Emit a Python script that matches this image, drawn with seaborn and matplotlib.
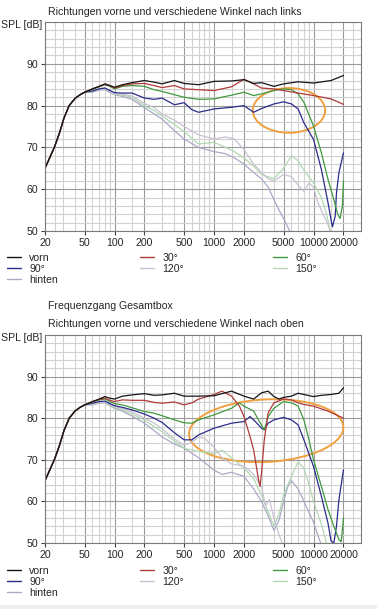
import matplotlib
matplotlib.use("Agg")
import matplotlib.pyplot as plt
import pandas as pd
import seaborn as sns
from matplotlib.patches import Ellipse, Rectangle
from matplotlib.lines import Line2D
from matplotlib.ticker import NullFormatter

# ---------------- data ----------------
LOW_F = [20, 22, 25, 28, 31, 35, 40, 45, 50]
LOW_DB = [65.0, 67.2, 70.2, 73.5, 77.0, 80.0, 81.7, 82.6, 83.2]

# panel 1: Winkel nach links
L_VORN_F = [60, 70, 80, 90, 100, 120, 150, 200, 250, 300, 400, 500, 700, 1000, 1500, 2000, 2500, 3000, 4000, 5000, 7000, 10000, 15000, 20000]
L_VORN_DB = [84.0, 84.6, 85.2, 84.8, 84.4, 85.0, 85.5, 86.0, 85.6, 85.2, 86.0, 85.3, 85.0, 85.8, 85.9, 86.2, 85.3, 85.5, 84.6, 85.2, 85.7, 85.4, 86.0, 87.2]
L_30_F = [60, 70, 80, 90, 100, 120, 150, 200, 250, 300, 400, 500, 700, 1000, 1500, 2000, 2500, 3000, 4000, 5000, 7000, 10000, 15000, 20000]
L_30_DB = [84.0, 84.6, 85.1, 84.7, 84.2, 84.8, 85.2, 85.3, 84.8, 84.3, 84.8, 84.0, 83.8, 83.6, 84.5, 86.3, 85.2, 84.2, 84.0, 83.6, 83.0, 82.4, 81.6, 80.3]
L_60_F = [60, 70, 80, 90, 100, 120, 150, 200, 250, 300, 400, 500, 700, 1000, 1500, 2000, 2500, 3000, 4000, 5000, 6000, 7000, 8000, 10000, 12000, 14000, 16000, 17500, 18500, 19500, 20000]
L_60_DB = [83.9, 84.5, 85.0, 84.6, 84.0, 84.6, 84.8, 84.6, 83.8, 83.4, 82.6, 82.0, 81.5, 81.6, 82.5, 83.2, 82.4, 82.8, 83.6, 84.0, 83.8, 82.8, 80.8, 75.1, 68.7, 62.3, 57.5, 54.0, 53.0, 56.0, 62.0]
L_90_F = [60, 70, 80, 90, 100, 120, 150, 200, 250, 300, 400, 500, 600, 700, 1000, 1500, 2000, 2500, 3000, 4000, 5000, 6000, 7000, 8000, 10000, 12000, 14000, 15000, 15500, 16500, 17000, 18000, 20000]
L_90_DB = [83.5, 84.0, 84.2, 83.6, 83.1, 83.0, 83.0, 81.8, 81.5, 81.8, 80.2, 80.7, 79.0, 78.4, 79.2, 79.6, 80.0, 78.4, 79.3, 80.4, 80.9, 80.4, 79.2, 75.9, 71.9, 64.7, 56.7, 52.7, 51.0, 53.5, 59.0, 64.0, 68.7]
L_120_F = [60, 70, 80, 90, 100, 120, 150, 200, 250, 300, 400, 500, 700, 1000, 1300, 1600, 2000, 2500, 3000, 3500, 4000, 5000, 6000, 7000, 8000, 9000, 10000, 11000, 12500, 14000, 15000]
L_120_DB = [83.5, 84.0, 84.2, 83.4, 82.8, 82.7, 82.3, 80.5, 79.5, 78.0, 76.5, 75.0, 73.0, 72.0, 72.5, 72.0, 69.5, 66.0, 64.0, 62.5, 62.0, 63.5, 63.0, 61.0, 59.5, 61.5, 60.5, 57.0, 54.0, 51.5, 49.0]
L_150_F = [60, 70, 80, 90, 100, 120, 150, 200, 250, 300, 400, 500, 700, 1000, 1300, 1600, 2000, 2500, 3000, 4000, 5000, 6000, 7000, 8000, 10000, 12000, 13000, 14000, 15000]
L_150_DB = [83.4, 83.9, 84.0, 83.3, 82.7, 82.5, 82.0, 80.0, 78.8, 77.5, 75.5, 73.8, 70.8, 71.2, 70.0, 69.0, 67.5, 65.5, 63.5, 62.5, 65.0, 68.0, 66.8, 64.5, 61.5, 58.0, 55.5, 52.5, 49.0]
L_HINTEN_F = [60, 70, 80, 90, 100, 120, 150, 200, 250, 300, 400, 500, 700, 1000, 1300, 1600, 2000, 2500, 3000, 3500, 4000, 4500, 5000, 5500, 6000]
L_HINTEN_DB = [83.2, 83.7, 83.8, 83.1, 82.6, 82.2, 81.5, 79.5, 78.0, 76.8, 74.0, 72.0, 70.0, 69.0, 68.5, 67.5, 66.0, 64.0, 62.5, 60.5, 57.5, 55.0, 53.0, 51.0, 49.0]

# panel 2: Winkel nach oben
O_VORN_F = [60, 70, 80, 90, 100, 120, 150, 200, 250, 300, 400, 500, 700, 1000, 1500, 2000, 2500, 3000, 3500, 4000, 4500, 5000, 6000, 7000, 8000, 10000, 12000, 15000, 18000, 20000]
O_VORN_DB = [84.0, 84.6, 85.2, 84.8, 84.6, 85.3, 85.6, 85.9, 85.5, 85.6, 86.0, 85.3, 85.3, 85.4, 86.5, 85.3, 84.6, 86.1, 86.5, 85.2, 84.6, 85.0, 85.3, 86.0, 85.7, 85.2, 85.5, 85.7, 86.0, 87.3]
O_30_F = [60, 70, 80, 90, 100, 120, 150, 200, 250, 300, 400, 500, 600, 700, 1000, 1200, 1500, 1800, 2000, 2300, 2500, 2800, 2900, 3000, 3200, 3500, 4000, 5000, 6000, 7000, 8000, 10000, 14000, 20000]
O_30_DB = [84.0, 84.5, 84.8, 84.3, 84.0, 84.4, 84.3, 84.3, 83.8, 83.6, 83.9, 83.2, 83.7, 84.6, 85.7, 86.5, 85.3, 82.9, 80.4, 75.6, 72.4, 65.2, 63.6, 66.8, 74.8, 81.3, 83.7, 84.6, 84.4, 83.7, 83.3, 82.9, 81.7, 80.0]
O_60_F = [60, 70, 80, 90, 100, 120, 150, 200, 250, 300, 400, 500, 600, 700, 1000, 1500, 1800, 2000, 2500, 2800, 3200, 3500, 4000, 5000, 6000, 7000, 8000, 9000, 10000, 12000, 14000, 16000, 18000, 19000, 20000]
O_60_DB = [83.9, 84.4, 84.6, 84.0, 83.5, 83.2, 82.5, 81.6, 81.2, 80.6, 79.6, 78.9, 78.8, 79.6, 80.8, 82.4, 83.7, 82.9, 81.7, 79.6, 77.2, 80.4, 82.4, 84.0, 83.7, 82.9, 79.6, 74.8, 70.0, 63.6, 58.0, 54.0, 50.8, 50.3, 56.0]
O_90_F = [60, 70, 80, 90, 100, 120, 150, 200, 250, 300, 400, 500, 600, 700, 1000, 1500, 2000, 2300, 2600, 3000, 3200, 3500, 4000, 5000, 6000, 7000, 8000, 10000, 12000, 14000, 15000, 16000, 17000, 18000, 20000]
O_90_DB = [83.6, 84.0, 84.1, 83.5, 83.0, 82.6, 82.0, 81.0, 80.0, 79.0, 76.5, 74.8, 74.8, 76.0, 77.6, 78.8, 79.2, 80.4, 79.2, 77.6, 77.2, 78.8, 79.6, 80.2, 79.6, 78.4, 74.8, 68.4, 61.2, 54.7, 50.5, 50.0, 54.0, 60.4, 67.6]
O_120_F = [60, 70, 80, 90, 100, 120, 150, 200, 250, 300, 400, 500, 600, 700, 800, 1000, 1200, 1500, 2000, 2500, 3000, 3300, 3600, 4000, 4500, 5000]
O_120_DB = [83.4, 83.8, 84.0, 83.3, 82.8, 82.3, 81.5, 80.0, 78.8, 77.5, 75.0, 73.5, 74.2, 75.5, 75.2, 73.0, 70.5, 69.0, 68.5, 66.5, 63.5, 59.0, 60.5, 56.0, 52.0, 49.0]
O_150_F = [60, 70, 80, 90, 100, 120, 150, 200, 250, 300, 400, 500, 700, 1000, 1200, 1500, 2000, 2500, 3000, 3500, 4000, 4500, 5000, 6000, 7000, 8000, 9000, 10000, 12000, 13500, 14000]
O_150_DB = [83.3, 83.7, 83.9, 83.2, 82.6, 82.0, 81.0, 79.5, 78.0, 76.8, 74.5, 72.8, 72.0, 71.5, 72.3, 70.5, 68.0, 65.5, 61.5, 57.5, 54.0, 57.0, 61.5, 66.0, 69.5, 68.0, 64.0, 60.0, 54.5, 50.0, 49.0]
O_HINTEN_F = [60, 70, 80, 90, 100, 120, 150, 200, 250, 300, 400, 500, 700, 1000, 1200, 1500, 2000, 2500, 3000, 3500, 4000, 4500, 5000, 5500, 6000, 7000, 8000, 10000, 11000, 12000]
O_HINTEN_DB = [83.2, 83.6, 83.7, 83.0, 82.4, 81.7, 80.5, 78.8, 77.0, 75.5, 73.8, 72.8, 70.5, 67.5, 66.5, 67.0, 66.0, 63.0, 60.0, 56.5, 53.0, 55.5, 60.0, 63.5, 65.0, 63.0, 60.0, 55.0, 52.0, 49.5]

NAMES = ["hinten", "150°", "120°", "90°", "60°", "30°", "vorn"]
COLORS = ["#a9a9c6", "#b2d8b2", "#c8c2d2", "#2c2c8c", "#3f9a3f", "#b03a3a", "#151515"]
X_LABELS = [20, 50, 100, 200, 500, 1000, 2000, 5000, 10000, 20000]
X_MINOR = [25, 30, 40, 60, 70, 80, 90, 150, 300, 400, 600, 700, 800, 900,
           1500, 3000, 4000, 6000, 7000, 8000, 9000, 15000, 25000]
Y_LABELS = [50, 60, 70, 80, 90]

panel1 = [(L_HINTEN_F, L_HINTEN_DB), (L_150_F, L_150_DB), (L_120_F, L_120_DB),
          (L_90_F, L_90_DB), (L_60_F, L_60_DB), (L_30_F, L_30_DB), (L_VORN_F, L_VORN_DB)]
panel2 = [(O_HINTEN_F, O_HINTEN_DB), (O_150_F, O_150_DB), (O_120_F, O_120_DB),
          (O_90_F, O_90_DB), (O_60_F, O_60_DB), (O_30_F, O_30_DB), (O_VORN_F, O_VORN_DB)]


def to_frame(curves):
    parts = []
    for name, (f, db) in zip(NAMES, curves):
        parts.append(pd.DataFrame({"f": LOW_F + f, "dB": LOW_DB + db, "dir": name}))
    return pd.concat(parts, ignore_index=True)


sns.set_style("white")
plt.rcParams["font.family"] = ["Liberation Sans", "DejaVu Sans"]
FS = 7.6
W, H = 377, 609
fig = plt.figure(figsize=(W / 100, H / 100), dpi=100)
palette = dict(zip(NAMES, COLORS))


def setup(ax):
    ax.set_xscale("log")
    ax.set_xlim(20, 30000)
    ax.set_ylim(50, 100)
    ax.set_xticks(X_LABELS)
    ax.set_xticklabels([str(v) for v in X_LABELS])
    ax.set_xticks(X_MINOR, minor=True)
    ax.xaxis.set_minor_formatter(NullFormatter())
    ax.set_yticks(Y_LABELS)
    ax.set_yticks(range(52, 100, 2), minor=True)
    ax.tick_params(which="major", length=3, width=0.8, color="#404040",
                   labelsize=FS, pad=2, direction="out", bottom=True, left=True)
    ax.tick_params(which="minor", length=0)
    ax.grid(which="major", color="#9a9a9a", lw=0.8)
    ax.grid(which="minor", color="#d0d0d0", lw=0.8)
    for s in ax.spines.values():
        s.set_color("#7a7a7a")
        s.set_linewidth(0.8)
    ax.set_xlabel("")
    ax.set_ylabel("")


def draw(ax, curves):
    setup(ax)
    sns.lineplot(data=to_frame(curves), x="f", y="dB", hue="dir", hue_order=NAMES,
                 palette=palette, legend=False, lw=0.9, ax=ax)
    setup(ax)


ax1 = fig.add_axes([45 / W, 1 - 231 / H, 316 / W, 209 / H])
ax2 = fig.add_axes([45 / W, 1 - 543 / H, 316 / W, 208 / H])
draw(ax1, panel1)
draw(ax2, panel2)

# hand-drawn orange marks
ax1.add_patch(Ellipse((0.772, 0.577), 0.229, 0.214, transform=ax1.transAxes,
                      fill=False, ec="#f0a040", lw=1.4))
ax2.add_patch(Ellipse((0.70, 0.54), 0.49, 0.30, angle=6, transform=ax2.transAxes,
                      fill=False, ec="#f0a040", lw=1.4))

# titles
fig.text(48 / W, 1 - 12 / H, "Richtungen vorne und verschiedene Winkel nach links",
         fontsize=FS, ha="left", va="center")
fig.text(1 / W, 1 - 25 / H, "SPL [dB]", fontsize=FS, ha="left", va="center")
fig.text(48 / W, 1 - 306 / H, "Frequenzgang Gesamtbox", fontsize=FS, ha="left", va="center")
fig.text(48 / W, 1 - 324 / H, "Richtungen vorne und verschiedene Winkel nach oben",
         fontsize=FS, ha="left", va="center")
fig.text(1 / W, 1 - 338 / H, "SPL [dB]", fontsize=FS, ha="left", va="center")

# legends, one per column
columns = [(7, ["vorn", "90°", "hinten"]), (140, ["30°", "120°"]), (273, ["60°", "150°"])]
for top in (253, 566):
    for x, labels in columns:
        handles = [Line2D([], [], color=palette[l], lw=1.0) for l in labels]
        fig.legend(handles, labels, loc="upper left", bbox_to_anchor=(x / W, 1 - top / H),
                   frameon=False, fontsize=FS, handlelength=1.3, handletextpad=0.8,
                   labelspacing=0.1, borderpad=0, borderaxespad=0)

fig.add_artist(Rectangle((0, 0), 1, 4 / H, transform=fig.transFigure,
                         color="#f0f0f0", lw=0))

fig.savefig("out.png", dpi=100)
